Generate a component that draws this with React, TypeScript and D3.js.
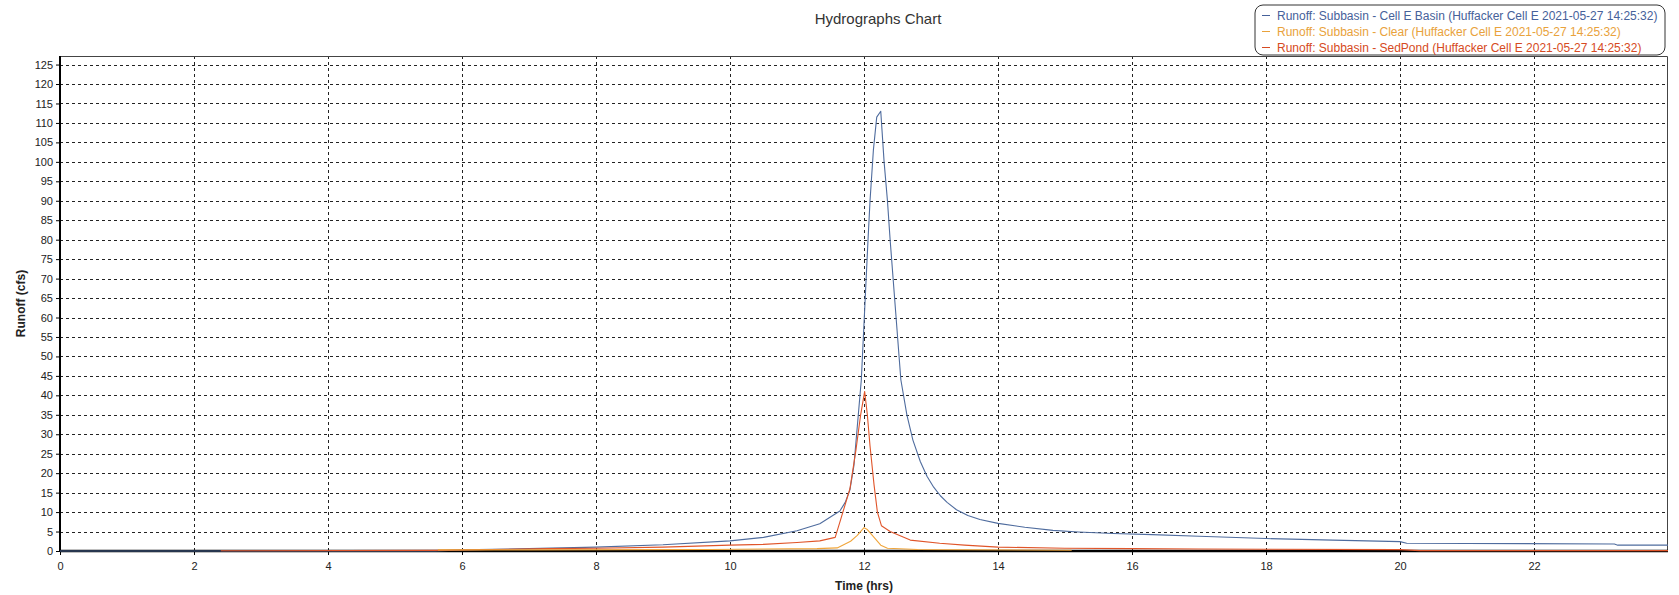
import React, { useEffect, useRef } from "react";
import * as d3 from "d3";

// hours / runoff (cfs)
const basinHrs = [0, 5.6, 6, 7, 8, 9, 10, 10.5, 11, 11.34, 11.64, 11.72, 11.79, 11.85, 11.9, 11.96, 12.01, 12.06, 12.09, 12.14, 12.19, 12.25, 12.3, 12.35, 12.39, 12.47, 12.55, 12.64, 12.73, 12.84, 12.94, 13.04, 13.14, 13.24, 13.38, 13.55, 13.73, 14.0, 14.4, 14.82, 15.2, 15.72, 16.3, 17, 18, 19, 20, 20.1, 23.2, 23.25, 24]
const basinCfs = [0, 0, 0.3, 0.6, 1.0, 1.6, 2.6, 3.5, 5.2, 7.0, 10.3, 12.5, 15.7, 22, 32, 44, 62, 80, 90, 103, 111.5, 113, 100, 90, 80, 62, 44, 35, 28.5, 23, 19.2, 16.4, 14.2, 12.5, 10.6, 9.1, 8.1, 7.1, 6.1, 5.3, 4.9, 4.5, 4.2, 3.8, 3.2, 2.8, 2.4, 2.0, 1.8, 1.5, 1.5]

const clearHrs = [5.64, 7, 9.7, 10.5, 11.3, 11.6, 11.8, 11.9, 12.0, 12.05, 12.15, 12.25, 12.35, 12.8, 15.1]
const clearCfs = [0.3, 0.3, 0.4, 0.5, 0.6, 0.8, 2.5, 4, 6.0, 5.5, 3.5, 1.5, 0.7, 0.4, 0.2]

const pondHrs = [2.4, 5.6, 7.3, 8, 9, 10, 10.5, 11, 11.34, 11.57, 11.65, 11.72, 11.79, 11.88, 11.95, 12.01, 12.05, 12.09, 12.15, 12.2, 12.26, 12.39, 12.69, 13.13, 13.5, 14, 15, 16, 17, 18, 20, 20.3, 24]
const pondCfs = [0.05, 0.15, 0.6, 0.7, 1.0, 1.5, 1.7, 2.2, 2.6, 3.5, 8, 12, 16, 26, 35, 41, 35, 27, 17, 10, 6.5, 5.0, 2.8, 2.0, 1.5, 1.0, 0.7, 0.6, 0.5, 0.45, 0.35, 0.1, 0.1]

const seriesNames = [
  "Runoff: Subbasin - Cell E Basin (Huffacker Cell E 2021-05-27 14:25:32)",
  "Runoff: Subbasin - Clear (Huffacker Cell E 2021-05-27 14:25:32)",
  "Runoff: Subbasin - SedPond (Huffacker Cell E 2021-05-27 14:25:32)"
]
const seriesColors = ["#4f6c9e", "#f0a53a", "#e0552a"]
const legendColors = ["#46619a", "#e9a23b", "#d64a22"]

const xTicks = [0, 2, 4, 6, 8, 10, 12, 14, 16, 18, 20, 22]
const yTicks = d3.range(0, 126, 5)

function drawChart (bind: SVGSVGElement) {
  const width = 1679
  const height = 595
  const margin = {top: 56, right: 11, bottom: 44, left: 60}
  const font = "'Liberation Sans', Arial, sans-serif"

  const svg = d3.select(bind)
  svg.selectAll('*').remove()
  svg.attr('width', width).attr('height', height)
    .style('font-family', font)

  const x = d3.scaleLinear().domain([0, 24]).range([margin.left, width - margin.right])
  const y = d3.scaleLinear().domain([0, 127.2]).range([height - margin.bottom, margin.top])

  svg.append('rect')
    .attr('width', width).attr('height', height).attr('fill', '#fff')

  // grid
  svg.append('g').selectAll('line.h')
    .data(yTicks.filter(d => d > 0))
    .enter().append('line')
    .attr('x1', x(0)).attr('x2', x(24))
    .attr('y1', d => Math.round(y(d)) + 0.5).attr('y2', d => Math.round(y(d)) + 0.5)
    .attr('stroke', '#222').attr('stroke-width', 1).attr('stroke-dasharray', '3,3')

  svg.append('g').selectAll('line.v')
    .data(xTicks.filter(d => d > 0))
    .enter().append('line')
    .attr('y1', y(127.2)).attr('y2', y(0))
    .attr('x1', d => Math.round(x(d)) + 0.5).attr('x2', d => Math.round(x(d)) + 0.5)
    .attr('stroke', '#222').attr('stroke-width', 1).attr('stroke-dasharray', '3,3')

  // top / right frame
  svg.append('path')
    .attr('d', `M${x(0)},${y(127.2) + 0.5}H${x(24) - 0.5}V${y(0)}`)
    .attr('fill', 'none').attr('stroke', '#444').attr('stroke-width', 1)

  // axes
  const xAxis = d3.axisBottom(x).tickValues(xTicks).tickSize(4).tickFormat(d3.format('d'))
  const gx = svg.append('g')
    .attr('transform', `translate(0,${y(0)})`)
    .call(xAxis)
  gx.select('.domain').remove()
  gx.selectAll('text').attr('font-size', 11).attr('fill', '#222').attr('dy', '1.1em').style('font-family', font)

  const yAxis = d3.axisLeft(y).tickValues(yTicks).tickSize(4)
  const gy = svg.append('g')
    .attr('transform', `translate(${x(0)},0)`)
    .call(yAxis)
  gy.select('.domain').remove()
  gy.selectAll('text').attr('font-size', 11).attr('fill', '#222').style('font-family', font)

  svg.append('line')
    .attr('x1', x(0)).attr('x2', x(24)).attr('y1', y(0)).attr('y2', y(0))
    .attr('stroke', '#000').attr('stroke-width', 2.5)
  svg.append('line')
    .attr('x1', x(0)).attr('x2', x(0)).attr('y1', y(127.2)).attr('y2', y(0) + 1)
    .attr('stroke', '#000').attr('stroke-width', 2)

  // series
  const allHrs = [basinHrs, clearHrs, pondHrs]
  const allCfs = [basinCfs, clearCfs, pondCfs]
  const line = d3.line<[number, number]>()
    .x(d => x(d[0]))
    .y(d => y(d[1]))

  const order = [0, 2, 1]
  order.forEach(i => {
    const pts = allHrs[i].map((h, j) => [h, allCfs[i][j]] as [number, number])
    svg.append('path')
      .attr('d', line(pts))
      .attr('fill', 'none')
      .attr('stroke', seriesColors[i])
      .attr('stroke-width', 1.1)
      .attr('stroke-linejoin', 'round')
  })

  // titles
  svg.append('text')
    .attr('x', 878).attr('y', 24)
    .attr('text-anchor', 'middle')
    .attr('font-size', 15).attr('fill', '#333')
    .text('Hydrographs Chart')

  svg.append('text')
    .attr('x', (x(0) + x(24)) / 2).attr('y', 590)
    .attr('text-anchor', 'middle')
    .attr('font-size', 12).attr('font-weight', 'bold').attr('fill', '#222')
    .text('Time (hrs)')

  svg.append('text')
    .attr('transform', `translate(25,${(y(0) + y(127.2)) / 2}) rotate(-90)`)
    .attr('text-anchor', 'middle')
    .attr('font-size', 12).attr('font-weight', 'bold').attr('fill', '#222')
    .text('Runoff (cfs)')

  // legend
  const lg = svg.append('g').attr('transform', 'translate(1255,5)')
  lg.append('rect')
    .attr('width', 410).attr('height', 50).attr('rx', 8)
    .attr('fill', '#fff').attr('stroke', '#333').attr('stroke-width', 1)
  lg.selectAll('line')
    .data(seriesNames)
    .enter().append('line')
    .attr('x1', 7).attr('x2', 15)
    .attr('y1', (d, i) => 10.5 + i * 16).attr('y2', (d, i) => 10.5 + i * 16)
    .attr('stroke', (d, i) => legendColors[i])
  lg.selectAll('text')
    .data(seriesNames)
    .enter().append('text')
    .attr('x', 22).attr('y', (d, i) => 14.5 + i * 16)
    .attr('font-size', 12)
    .attr('fill', (d, i) => legendColors[i])
    .text(d => d)
}

export default function App () {
  const ref = useRef<SVGSVGElement>(null)

  useEffect(() => {
    if (ref.current) drawChart(ref.current)
  })

  return (
    <svg ref={ref} style={{position: 'absolute', left: 0, top: 0, display: 'block'}}></svg>
  )
}
